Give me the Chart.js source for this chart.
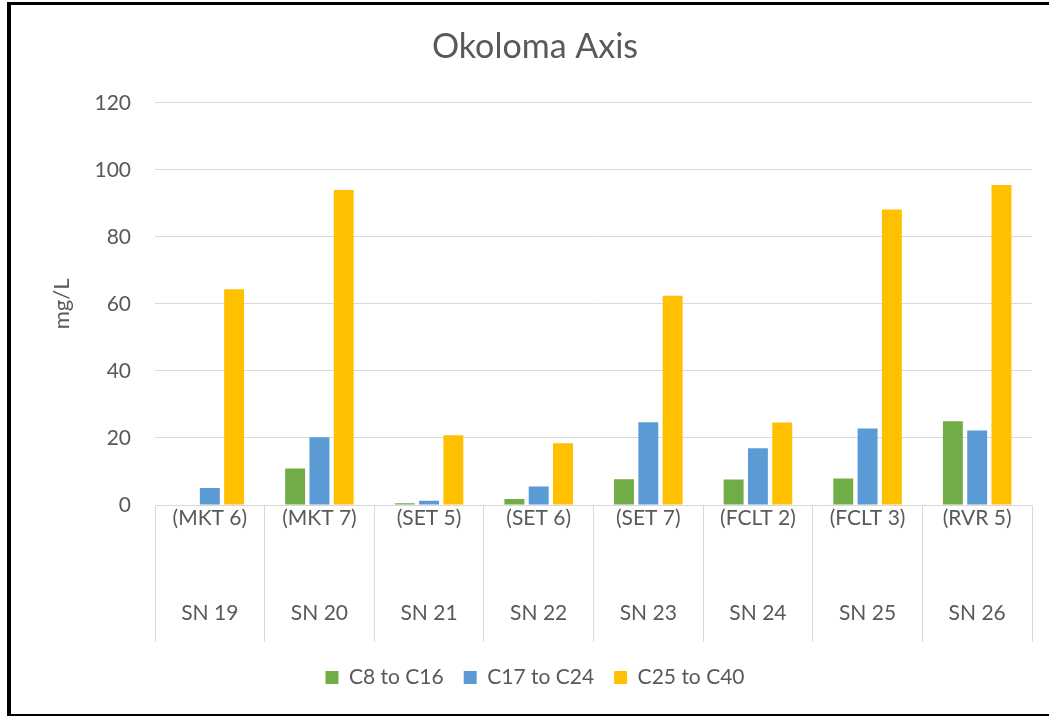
<!DOCTYPE html>
<html>
<head>
<meta charset="utf-8">
<script src="https://cdn.jsdelivr.net/npm/chart.js@4"></script>
<style>
  html, body { margin: 0; padding: 0; background: #fff; }
  #wrap { position: relative; width: 1049px; height: 716px; }
  #frame {
    position: absolute; left: 7px; top: 2px; width: 1042px; height: 709px;
    border-left: 4px solid #000; border-top: 3px solid #000; border-bottom: 2px solid #000;
    box-sizing: content-box; pointer-events: none;
  }
</style>
</head>
<body>
<div id="wrap">
  <canvas id="chart" width="1049" height="716"></canvas>
  <div id="frame"></div>
</div>
<script>
// Datos del gráfico
const sites = ['(MKT 6)', '(MKT 7)', '(SET 5)', '(SET 6)', '(SET 7)', '(FCLT 2)', '(FCLT 3)', '(RVR 5)'];
const samples = ['SN 19', 'SN 20', 'SN 21', 'SN 22', 'SN 23', 'SN 24', 'SN 25', 'SN 26'];
const c8to16 = [0, 10.9, 0.5, 1.8, 7.7, 7.6, 7.9, 25.0];
const c17to24 = [5.1, 20.2, 1.3, 5.5, 24.7, 16.9, 22.8, 22.2];
const c25to40 = [64.4, 94.0, 20.8, 18.4, 62.4, 24.6, 88.2, 95.5];
const seriesNames = ['C8 to C16', 'C17 to C24', 'C25 to C40'];
const seriesColors = ['#70AD47', '#5B9BD5', '#FFC000'];

const textColor = '#595959';
const gridColor = '#D9D9D9';
const fontFamily = 'Lato, "Open Sans", sans-serif';

// Etiquetas de dos niveles: sitio arriba, muestra abajo
const labels = sites.map((s, i) => [s, '', '', samples[i]]);

new Chart(document.getElementById('chart'), {
    type: 'bar',
    data: {
        labels: labels,
        datasets: [c8to16, c17to24, c25to40].map((d, i) => ({
            label: seriesNames[i],
            data: d,
            backgroundColor: seriesColors[i],
            borderWidth: 0,
            barPercentage: 0.82,
            categoryPercentage: 0.665
        }))
    },
    options: {
        responsive: false,
        animation: false,
        layout: { padding: { left: 38, right: 17, top: 0, bottom: 18 } },
        plugins: {
            title: {
                display: true,
                text: 'Okoloma Axis',
                color: textColor,
                font: { family: fontFamily, size: 34, weight: 'normal' },
                padding: { top: 27, bottom: 35 }
            },
            legend: {
                position: 'bottom',
                labels: {
                    color: textColor,
                    boxWidth: 13,
                    boxHeight: 13,
                    padding: 20,
                    font: { family: fontFamily, size: 21 }
                }
            },
            tooltip: { enabled: false }
        },
        scales: {
            y: {
                min: 0,
                max: 120,
                ticks: {
                    stepSize: 20,
                    color: textColor,
                    padding: 24,
                    font: { family: fontFamily, size: 21 }
                },
                grid: { color: gridColor, drawTicks: false },
                border: { display: false },
                title: {
                    display: true,
                    text: 'mg/L',
                    color: textColor,
                    font: { family: fontFamily, size: 22 },
                    padding: { top: 11, bottom: 0 }
                },
                afterFit(scale) { scale.width = 117; }
            },
            x: {
                grid: {
                    color: gridColor,
                    drawOnChartArea: false,
                    tickLength: 137,
                    offset: true
                },
                border: { color: gridColor },
                ticks: {
                    color: textColor,
                    autoSkip: false,
                    maxRotation: 0,
                    padding: -140,
                    font: { family: fontFamily, size: 21, lineHeight: 1.52 }
                },
                afterFit(scale) { scale.height = 142; }
            }
        }
    }
});
</script>
</body>
</html>
